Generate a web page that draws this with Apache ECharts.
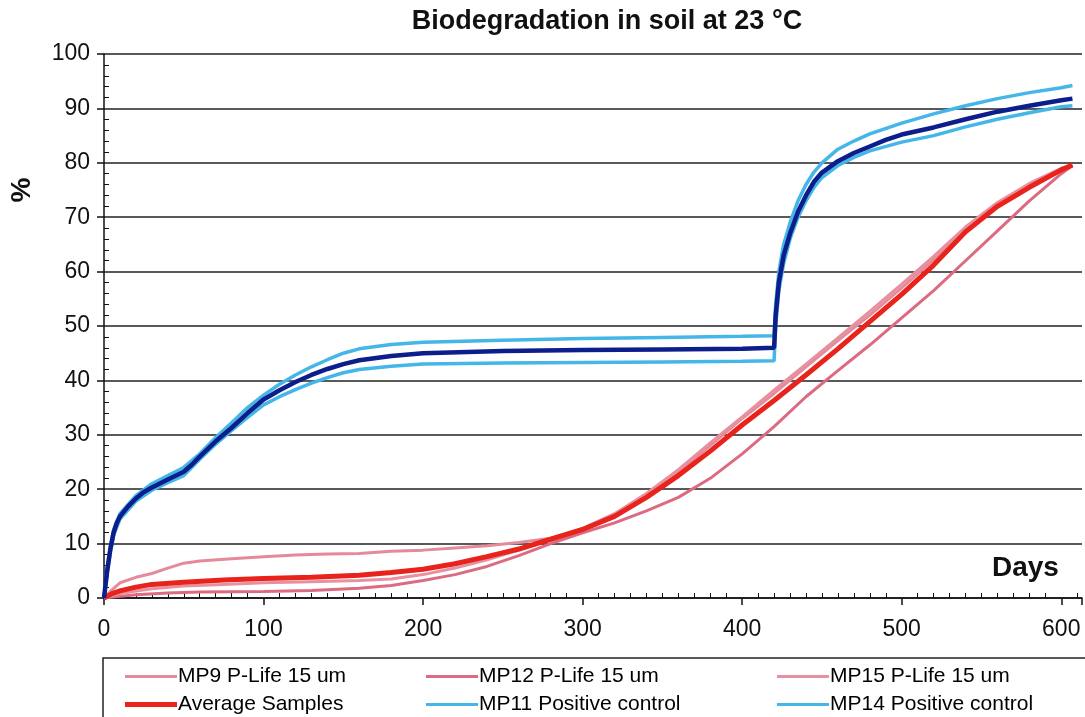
<!DOCTYPE html>
<html>
<head>
<meta charset="utf-8">
<script src="https://cdn.jsdelivr.net/npm/echarts@6/dist/echarts.min.js"></script>
<style>
html,body{margin:0;padding:0;background:#fff;}
#c{width:1085px;height:717px;}
</style>
</head>
<body>
<div id="c"></div>
<script>
// ---- Data (day, %) ----
const titleText = 'Biodegradation in soil at 23 °C';
const xTicks = [0, 100, 200, 300, 400, 500, 600];
const yTicks = [0, 10, 20, 30, 40, 50, 60, 70, 80, 90, 100];

const mp9 = [[0,0],[5,1.5],[10,2.8],[20,3.8],[30,4.5],[40,5.5],[50,6.4],[60,6.8],[80,7.2],[100,7.6],[120,7.9],[140,8.1],[160,8.2],[180,8.6],[200,8.8],[220,9.2],[240,9.6],[260,10.2],[280,11],[300,12.7],[320,15.3],[340,18.8],[360,23.2],[380,28],[400,33],[420,37.6],[440,42.5],[460,47.3],[480,52],[500,57],[520,62.2],[540,67.8],[560,72.3],[580,75.8],[600,78.7],[607,79.5]];
const mp12 = [[0,0],[10,0.3],[20,0.6],[40,0.9],[60,1.1],[100,1.2],[130,1.4],[160,1.8],[180,2.3],[200,3.2],[220,4.3],[240,5.8],[260,7.8],[280,10],[300,12],[320,13.8],[340,16],[360,18.5],[380,22],[400,26.5],[420,31.5],[440,37],[460,41.8],[480,46.5],[500,51.5],[520,56.5],[540,62],[560,67.5],[580,73],[600,78],[607,79.5]];
const mp15 = [[0,0],[10,0.8],[20,1.3],[30,1.7],[50,2.2],[75,2.5],[100,2.8],[130,3],[160,3.2],[180,3.5],[200,4.3],[220,5.5],[240,7],[260,8.8],[280,10.8],[300,12.8],[320,15.5],[340,19.2],[360,23.6],[380,28.5],[400,33.3],[420,38.2],[440,43],[460,47.8],[480,52.7],[500,57.7],[520,62.8],[540,68.2],[560,72.7],[580,76.2],[600,79],[607,79.5]];
const avgSamples = [[0,0],[5,0.8],[10,1.3],[20,2],[30,2.5],[50,2.9],[75,3.3],[100,3.6],[130,3.8],[160,4.2],[180,4.7],[200,5.3],[220,6.3],[240,7.6],[260,9],[280,10.8],[300,12.6],[320,15],[340,18.5],[360,22.5],[380,27],[400,31.8],[420,36.3],[440,41],[460,45.8],[480,50.8],[500,55.8],[520,61.2],[540,67.3],[560,72],[580,75.5],[600,78.7],[607,79.6]];
const mp11 = [[0,0],[2,5.5],[4,9.5],[6,12.5],[10,15.5],[20,18.8],[30,21],[40,22.5],[50,24],[60,26.5],[70,29.5],[80,32.2],[90,35],[100,37.3],[110,39.3],[120,41],[130,42.5],[140,43.8],[150,45],[160,45.8],[180,46.6],[200,47],[250,47.4],[300,47.7],[350,47.9],[400,48.1],[420,48.2],[421,54],[423,60],[426,65],[430,69],[435,73],[440,76],[445,78.3],[450,80],[460,82.5],[470,84],[480,85.3],[500,87.3],[520,89],[540,90.5],[560,91.8],[580,92.9],[600,93.8],[607,94.2]];
const mp14 = [[0,0],[2,4.5],[4,8.5],[6,11.5],[10,14.5],[20,17.8],[30,19.8],[40,21.2],[50,22.5],[60,25.5],[70,28.3],[80,30.8],[90,33.2],[100,35.5],[110,37],[120,38.3],[130,39.5],[140,40.5],[150,41.4],[160,42],[180,42.6],[200,43],[250,43.2],[300,43.3],[350,43.4],[400,43.5],[420,43.6],[421,50],[423,56.5],[426,61.5],[430,66],[435,70],[440,73],[445,75.5],[450,77.3],[460,79.5],[470,81],[480,82.2],[500,83.8],[520,85],[540,86.6],[560,88],[580,89.2],[600,90.3],[607,90.5]];
const avgControl = [[0,0],[2,5],[4,9],[6,12],[8,13.8],[10,15],[15,16.8],[20,18.3],[25,19.5],[30,20.3],[40,21.8],[50,23.2],[55,24.5],[60,26],[70,28.8],[80,31.3],[90,34],[100,36.5],[110,38.2],[120,39.7],[130,41],[140,42.1],[150,43],[160,43.7],[180,44.5],[200,45],[250,45.4],[300,45.6],[350,45.7],[400,45.8],[420,46],[421,52],[423,58],[426,63],[430,67],[435,71],[440,74],[445,76.5],[450,78.2],[460,80.3],[470,81.8],[480,83],[490,84.2],[500,85.2],[520,86.5],[540,88],[560,89.4],[580,90.5],[600,91.5],[607,91.8]];

const names = ['MP9 P-Life 15 um','MP12 P-Life 15 um','MP15 P-Life 15 um','Average Samples','MP11 Positive control','MP14 Positive control'];

const FONT = '"Liberation Sans", Arial, sans-serif';
const chart = echarts.init(document.getElementById('c'), null, {renderer:'canvas'});

function line(name, data, color, width, z) {
  return {name, type:'line', data, symbol:'none', smooth:false, z,
    lineStyle:{color, width}, itemStyle:{color}, emphasis:{disabled:true}, animation:false, clip:true};
}

const legendPos = [[125,666],[426,666],[777,666],[125,694],[426,694],[777,694]];
const legendH = [3,3,3,5,3,3];
const legends = names.map((n,i)=>({
  data:[{name:n, icon:'rect'}], left:legendPos[i][0], top:legendPos[i][1], padding:0,
  itemWidth:52, itemHeight:legendH[i], itemGap:0, selectedMode:false,
  textStyle:{fontFamily:FONT, fontSize:21, color:'#000', padding:[0,0,0,-4]}
}));

chart.setOption({
  backgroundColor:'#fff',
  animation:false,
  title:{text:titleText, left:602, top:3, textAlign:'center',
    textStyle:{fontFamily:FONT, fontSize:27, fontWeight:'bold', color:'#111'}},
  legend:legends,
  grid:{left:104, right:2, top:54, bottom:119, containLabel:false},
  xAxis:[{
    type:'value', min:0, max:613, interval:100,
    axisLine:{show:true, lineStyle:{color:'#111', width:1.5}},
    axisTick:{show:true, inside:false, length:7, lineStyle:{color:'#111', width:1.5}},
    minorTick:{show:false},
    splitLine:{show:false},
    axisLabel:{fontFamily:FONT, fontSize:23, color:'#111', margin:20,
      formatter:v=> xTicks.includes(v) ? String(v) : ''},
  },{
    type:'value', min:0, max:613, interval:100, position:'bottom',
    axisLine:{show:false}, axisLabel:{show:false}, splitLine:{show:false},
    axisTick:{show:false, inside:true},
    minorTick:{show:true, splitNumber:10, length:5, lineStyle:{color:'#111', width:1}}
  }],
  yAxis:[{
    type:'value', min:0, max:100, interval:10,
    axisLine:{show:true, lineStyle:{color:'#111', width:1.5}},
    axisTick:{show:true, inside:false, length:7, lineStyle:{color:'#111', width:1.5}},
    splitLine:{show:true, lineStyle:{color:'#222', width:1.5}},
    axisLabel:{fontFamily:FONT, fontSize:23, color:'#111', margin:14,
      formatter:v=> yTicks.includes(v) ? String(v) : ''},
  },{
    type:'value', min:0, max:100, interval:10, position:'left',
    axisLine:{show:false}, axisLabel:{show:false}, splitLine:{show:false},
    axisTick:{show:false, inside:true},
    minorTick:{show:true, splitNumber:5, length:5, lineStyle:{color:'#111', width:1}}
  }],
  graphic:[
    {type:'text', left:992, top:554, style:{text:'Days', fontFamily:FONT, fontSize:28, fontWeight:'bold', fill:'#111'}},
    {type:'text', x:22, y:190, rotation:Math.PI/2, style:{text:'%', fontFamily:FONT, fontSize:28, fontWeight:'bold', fill:'#111', align:'center', verticalAlign:'middle'}},
    {type:'polyline', shape:{points:[[103,717],[103,658],[1085,658]]}, style:{stroke:'#222', lineWidth:1.5, fill:null}}
  ],
  series:[
    line(names[0], mp9, '#e58a9a', 3, 2),
    line(names[1], mp12, '#dc6b82', 3, 2),
    line(names[2], mp15, '#e7909f', 3, 2),
    line(names[3], avgSamples, '#e8231c', 5, 3),
    line(names[4], mp11, '#45b6e8', 3.5, 4),
    line(names[5], mp14, '#45b6e8', 3.5, 4),
    line('Average Positive control', avgControl, '#0c1d8c', 4.5, 5)
  ]
});
</script>
</body>
</html>
